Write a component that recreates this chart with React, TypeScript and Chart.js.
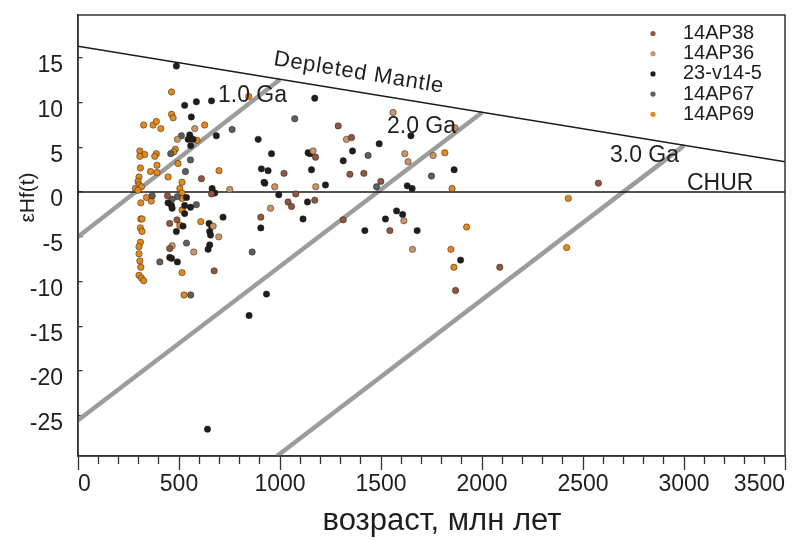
import React, { useEffect, useRef } from 'react';
import { Chart, registerables } from 'chart.js';

Chart.register(...registerables);

// ---------- data ----------
const seriesNames = ['14AP38', '14AP36', '23-v14-5', '14AP67', '14AP69'];
const seriesColors = ['#8c5842', '#c8956a', '#1e1e1e', '#5e5e5e', '#e0891f'];

const pts14AP38: [number, number][] = [
  [611, 1.5], [661, -0.2], [443, -0.4], [490, -3.1], [454, -3.5], [454, -6.3], [674, -8.8],
  [905, -2.8], [1078, -0.2], [1040, -1.1], [1057, -1.6], [1172, -0.9], [1313, -3.1], [1499, 1.2],
  [1544, -4.3], [1869, -11.0], [1020, 2.1], [1176, 3.9], [1288, 7.4], [1354, 6.1], [1346, 2.0],
  [1415, 2.1], [2576, 1.0], [2088, -8.4],
];
const pts14AP36: [number, number][] = [
  [578, 7.1], [492, 5.9], [751, 0.3], [669, -3.8], [697, -5.0], [466, -6.0], [573, -6.7],
  [974, 0.6], [953, -1.8], [1177, 0.6], [1164, 4.6], [1329, 5.9], [1560, 8.9], [1866, 7.2],
  [1618, 4.3], [1634, 3.4], [1758, 4.1], [1613, -3.2], [1656, -6.4],
];
const pts23v145: [number, number][] = [
  [487, 14.1], [528, 9.7], [586, 10.1], [661, 10.2], [561, 8.4], [553, 6.4], [561, 6.0], [545, 5.9],
  [570, 5.9], [558, 5.2], [685, 6.3], [664, 0.4], [677, -0.1], [537, -0.6], [446, -1.2], [463, -1.5],
  [466, -1.8], [528, -1.5], [528, -2.4], [557, -1.7], [718, -2.8], [520, -3.8], [649, -3.5], [661, -3.8],
  [487, -4.4], [652, -4.4], [656, -4.8], [652, -5.9], [644, -6.4], [454, -7.3], [463, -7.4], [492, -7.8],
  [847, -13.8], [933, -11.4], [641, -26.5], [905, -4.0], [925, 1.0], [994, -0.3], [1136, -1.1],
  [1114, -3.0], [1225, 0.8], [1420, -4.3], [1522, -3.0], [1577, -2.1], [1607, -2.5], [1630, 0.7],
  [1654, 0.4], [1679, -4.3], [1894, -7.6], [1172, 10.5], [892, 5.9], [958, 4.3], [908, 2.6], [941, 2.4],
  [921, 1.1], [1139, 4.4], [1148, 4.3], [1156, 2.5], [1359, 4.6], [1313, 3.5], [1491, 5.4], [1648, 6.3],
  [1862, 2.5],
];
const pts14AP67: [number, number][] = [
  [512, 6.3], [459, 4.3], [557, 3.6], [532, 2.3], [763, 7.0], [367, -0.4], [492, -0.5], [466, -0.8],
  [586, -1.4], [537, -5.7], [405, -7.8], [558, -11.5], [862, -6.7], [1073, 8.2], [1436, 4.1],
  [1478, 0.6], [1750, 1.8],
];
const pts14AP69: [number, number][] = [
  [463, 11.2], [845, 10.7], [463, 8.7], [471, 8.3], [325, 7.5], [372, 7.5], [388, 7.9], [410, 7.1],
  [627, 7.5], [589, 5.8], [306, 4.6], [330, 4.2], [306, 4.0], [388, 4.3], [380, 4.0], [482, 4.8],
  [474, 4.5], [495, 3.2], [309, 2.7], [391, 3.0], [359, 2.3], [391, 2.2], [446, 1.7], [698, 2.4],
  [302, 1.7], [297, 1.2], [302, 0.8], [314, 0.6], [515, 1.1], [504, 0.4], [515, -0.1], [284, 0.4],
  [297, 0.2], [339, -0.6], [363, -1.0], [311, -1.2], [515, -0.7], [515, -2.0], [311, -3.0], [317, -3.0],
  [608, -3.3], [504, -3.7], [309, -4.0], [317, -4.4], [309, -5.6], [302, -6.1], [302, -6.9], [306, -7.7],
  [311, -8.4], [515, -9.0], [302, -9.3], [314, -9.6], [325, -9.9], [525, -11.5], [1852, 0.4],
  [1924, -3.9], [1846, -6.4], [1861, -8.4], [1816, 4.4], [2427, -0.7], [2419, -6.2],
];
const seriesPoints = [pts14AP38, pts14AP36, pts23v145, pts14AP67, pts14AP69];

// reference lines
const dmAge = [0, 3500];
const dmEps = [16.3, 3.4];
const churAge = [0, 3500];
const churEps = [0, 0];
const ga1Age = [0, 1000];
const ga1Eps = [-5.0, 12.6];
const ga2Age = [0, 2000];
const ga2Eps = [-25.5, 8.9];
const ga3Age = [985, 3000];
const ga3Eps = [-29.5, 5.2];

const xMin = 0;
const xMax = 3500;
const yMin = -29.5;
const yMax = 19.8;

const FONT = '"Liberation Sans", Arial, Helvetica, sans-serif';

const toXY = (xs: number[], ys: number[]) => xs.map((x, i) => ({ x, y: ys[i] }));

const overlayPlugin = {
  id: 'overlay',
  afterDraw(chart: any) {
    const { ctx, chartArea } = chart;
    const xs = chart.scales.x;
    const ys = chart.scales.y;
    ctx.save();
    // frame
    ctx.strokeStyle = '#333';
    ctx.lineWidth = 1.5;
    ctx.strokeRect(chartArea.left, chartArea.top, chartArea.right - chartArea.left, chartArea.bottom - chartArea.top);

    ctx.fillStyle = '#1e1e1e';
    ctx.textBaseline = 'alphabetic';
    ctx.textAlign = 'left';
    ctx.font = `23px ${FONT}`;
    ctx.fillText('1.0 Ga', 218, 101.5);
    ctx.fillText('2.0 Ga', 387, 133);
    ctx.fillText('3.0 Ga', 610, 161.5);
    ctx.fillText('CHUR', 687, 190);

    // Depleted Mantle label along DM line
    const px0 = xs.getPixelForValue(dmAge[0]);
    const py0 = ys.getPixelForValue(dmEps[0]);
    const px1 = xs.getPixelForValue(dmAge[1]);
    const py1 = ys.getPixelForValue(dmEps[1]);
    const ang = Math.atan2(py1 - py0, px1 - px0);
    const t = 0.393;
    const cx = px0 + (px1 - px0) * t + Math.sin(ang) * 19;
    const cy = py0 + (py1 - py0) * t - Math.cos(ang) * 19;
    ctx.save();
    ctx.translate(cx, cy);
    ctx.rotate(ang);
    ctx.font = `22px ${FONT}`;
    (ctx as any).letterSpacing = '0.8px';
    ctx.textAlign = 'center';
    ctx.textBaseline = 'middle';
    ctx.fillText('Depleted Mantle', 0, 0);
    ctx.restore();

    // legend
    ctx.font = `20px ${FONT}`;
    ctx.textBaseline = 'middle';
    ctx.textAlign = 'left';
    seriesNames.forEach((name, i) => {
      const y = 33.5 + i * 20.2;
      ctx.beginPath();
      ctx.arc(653, y, 2.6, 0, Math.PI * 2);
      ctx.fillStyle = seriesColors[i];
      ctx.fill();
      ctx.fillStyle = '#1e1e1e';
      ctx.fillText(name, 683, y);
    });

    // axis titles
    ctx.font = `31px ${FONT}`;
    ctx.textAlign = 'center';
    ctx.textBaseline = 'alphabetic';
    ctx.fillStyle = '#1e1e1e';
    ctx.fillText('возраст, млн лет', 442, 530);

    ctx.save();
    ctx.translate(28, 197.5);
    ctx.rotate(-Math.PI / 2);
    ctx.font = `21px ${FONT}`;
    ctx.textBaseline = 'middle';
    ctx.fillText('εHf(t)', 0, 0);
    ctx.restore();

    ctx.restore();
  },
};

export default function App() {
  const ref = useRef<HTMLCanvasElement | null>(null);

  useEffect(() => {
    document.body.style.margin = '0';
    document.body.style.overflow = 'hidden';
    if (!ref.current) return;

    const pointSets = seriesPoints.map((pts, i) => ({
      label: seriesNames[i],
      data: pts.map(([x, y]) => ({ x, y })),
      backgroundColor: seriesColors[i],
      borderColor: 'rgba(35,25,15,0.8)',
      borderWidth: 0.6,
      pointRadius: 3.2,
      showLine: false,
      order: 1,
    }));

    const lineSet = (xs: number[], ys: number[], color: string, width: number) => ({
      label: '',
      data: toXY(xs, ys),
      showLine: true,
      borderColor: color,
      borderWidth: width,
      pointRadius: 0,
      fill: false,
      order: 10,
    });

    const chart = new Chart(ref.current, {
      type: 'scatter',
      data: {
        datasets: [
          ...pointSets,
          lineSet(dmAge, dmEps, '#1a1a1a', 1.5),
          lineSet(churAge, churEps, '#1a1a1a', 1.5),
          lineSet(ga1Age, ga1Eps, '#9c9c9c', 4.5),
          lineSet(ga2Age, ga2Eps, '#9c9c9c', 4.5),
          lineSet(ga3Age, ga3Eps, '#9c9c9c', 4.5),
        ] as any,
      },
      options: {
        animation: false,
        responsive: false,
        maintainAspectRatio: false,
        devicePixelRatio: 1,
        layout: { padding: { left: 0, top: 15, right: 10, bottom: 0 } },
        plugins: {
          legend: { display: false },
          tooltip: { enabled: false },
        },
        scales: {
          x: {
            type: 'linear',
            position: 'bottom',
            min: xMin,
            max: xMax,
            ticks: {
              stepSize: 100,
              autoSkip: false,
              maxRotation: 0,
              minRotation: 0,
              align: 'inner',
              padding: 1,
              color: '#1e1e1e',
              font: { family: FONT, size: 23 },
              callback: (v: any) => (Number(v) % 500 === 0 ? String(v) : ''),
            },
            grid: {
              display: true,
              drawOnChartArea: false,
              drawTicks: true,
              tickLength: 14,
              tickColor: '#333',
              tickWidth: 1.3,
              tickBorderDash: (c: any) => (c.tick && c.tick.value % 500 === 0 ? [] : [7.5, 60]),
            },
            border: { display: true, color: '#333', width: 1.5 },
            afterFit: (s: any) => {
              s.height = 85;
              s.paddingLeft = 0;
              s.paddingRight = 0;
            },
          },
          y: {
            type: 'linear',
            position: 'left',
            min: yMin,
            max: yMax,
            ticks: {
              stepSize: 5,
              includeBounds: false,
              padding: 15,
              labelOffset: 8,
              color: '#1e1e1e',
              font: { family: FONT, size: 23 },
            },
            grid: {
              display: true,
              drawOnChartArea: true,
              drawTicks: false,
              color: '#333',
              lineWidth: 1.3,
            },
            border: { display: true, color: '#333', width: 1.5, dash: [4, 3000] },
            afterFit: (s: any) => {
              s.width = 78;
              s.paddingTop = 0;
              s.paddingBottom = 0;
            },
          },
        },
      } as any,
      plugins: [overlayPlugin],
    });

    return () => chart.destroy();
  }, []);

  return (
    <div style={{ width: 795, height: 541, background: '#fff' }}>
      <canvas ref={ref} width={795} height={541} style={{ display: 'block' }} />
    </div>
  );
}
